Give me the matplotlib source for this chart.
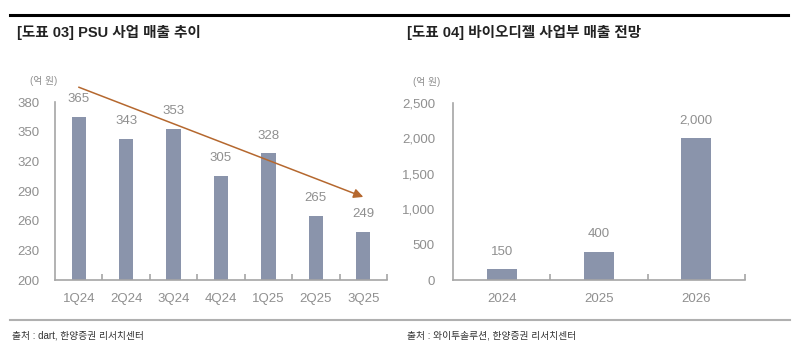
import matplotlib
matplotlib.use("Agg")
import matplotlib.pyplot as plt
from matplotlib.lines import Line2D

plt.rcParams['font.family'] = ['Liberation Sans', 'Noto Sans CJK KR', 'DejaVu Sans']

# PSU 분기 매출 (억 원)
psu_quarters = ['1Q24', '2Q24', '3Q24', '4Q24', '1Q25', '2Q25', '3Q25']
psu_sales = [365, 343, 353, 305, 328, 265, 249]

# 바이오디젤 사업부 매출 전망 (억 원)
bio_years = ['2024', '2025', '2026']
bio_sales = [150, 400, 2000]

BAR = '#8a94ab'
GRID = '#a6a6a6'
TXT = '#8f8f8f'

fig = plt.figure(figsize=(8, 3.45), dpi=100)


def style_axes(ax, n, ymax):
    ax.set_xlim(-0.5, n - 0.5)
    for s in ['top', 'right']:
        ax.spines[s].set_visible(False)
    for s in ['left', 'bottom']:
        ax.spines[s].set_color(GRID)
        ax.spines[s].set_linewidth(1.2)
    ax.tick_params(axis='both', which='major', length=0, colors=TXT, labelsize=9.5)
    ax.tick_params(axis='y', pad=11)
    ax.tick_params(axis='x', pad=9)
    # 카테고리 경계 눈금, y축 상단 눈금
    ax.set_xticks([i + 0.5 for i in range(n)], minor=True)
    ax.set_yticks([ymax], minor=True)
    ax.tick_params(which='minor', direction='in', length=4, width=1.2, color=GRID)


# 왼쪽: PSU 사업 매출 추이
ax1 = fig.add_axes([0.06875, 0.1884, 0.415, 0.5159])
x1 = range(len(psu_quarters))
ax1.bar(x1, psu_sales, width=0.3, color=BAR)
ax1.set_ylim(200, 380)
ax1.set_yticks(range(200, 381, 30))
ax1.set_xticks(list(x1))
ax1.set_xticklabels(psu_quarters)
style_axes(ax1, len(psu_quarters), 380)
for i, v in enumerate(psu_sales):
    ax1.annotate(str(v), (i, v), xytext=(0, 8.5), textcoords='offset points',
                 ha='center', va='bottom', color=TXT, fontsize=9.5)
ax1.annotate('', xy=(6, 284), xytext=(0, 395), annotation_clip=False,
             arrowprops=dict(arrowstyle='-|>', color='#b5682f', lw=1.1,
                             mutation_scale=14, shrinkA=0, shrinkB=0))
fig.text(30 / 800, 1 - 81 / 345, '(억 원)', fontsize=7, color=TXT, va='center')

# 오른쪽: 바이오디젤 사업부 매출 전망
ax2 = fig.add_axes([0.56625, 0.1884, 0.365, 0.5130])
x2 = range(len(bio_years))
ax2.bar(x2, bio_sales, width=0.31, color=BAR)
ax2.set_ylim(0, 2500)
ax2.set_yticks(range(0, 2501, 500))
ax2.set_yticklabels([f'{v:,}' for v in range(0, 2501, 500)])
ax2.set_xticks(list(x2))
ax2.set_xticklabels(bio_years)
style_axes(ax2, len(bio_years), 2500)
ax2.tick_params(axis='y', pad=13)
for i, v in enumerate(bio_sales):
    ax2.annotate(f'{v:,}', (i, v), xytext=(0, 8.5), textcoords='offset points',
                 ha='center', va='bottom', color=TXT, fontsize=9.5)
fig.text(413 / 800, 1 - 82 / 345, '(억 원)', fontsize=7, color=TXT, va='center')

# 상단 구분선과 제목
fig.add_artist(Line2D([10 / 800, 788 / 800], [1 - 15 / 345] * 2, color='black', lw=2.2))
fig.text(17 / 800, 1 - 32 / 345, '[도표 03] PSU 사업 매출 추이', fontsize=10.5,
         fontweight='bold', color='#222222', va='center')
fig.text(407 / 800, 1 - 32 / 345, '[도표 04] 바이오디젤 사업부 매출 전망', fontsize=10.5,
         fontweight='bold', color='#222222', va='center')

# 하단 구분선과 출처
fig.add_artist(Line2D([10 / 800, 790 / 800], [1 - 320 / 345] * 2, color='#b0b0b0', lw=1.5))
fig.text(12 / 800, 1 - 335 / 345, '출처 : dart, 한양증권 리서치센터', fontsize=7,
         color='#333333', va='center')
fig.text(407 / 800, 1 - 335 / 345, '출처 : 와이투솔루션, 한양증권 리서치센터', fontsize=7,
         color='#333333', va='center')

fig.savefig('out.png', dpi=100)
